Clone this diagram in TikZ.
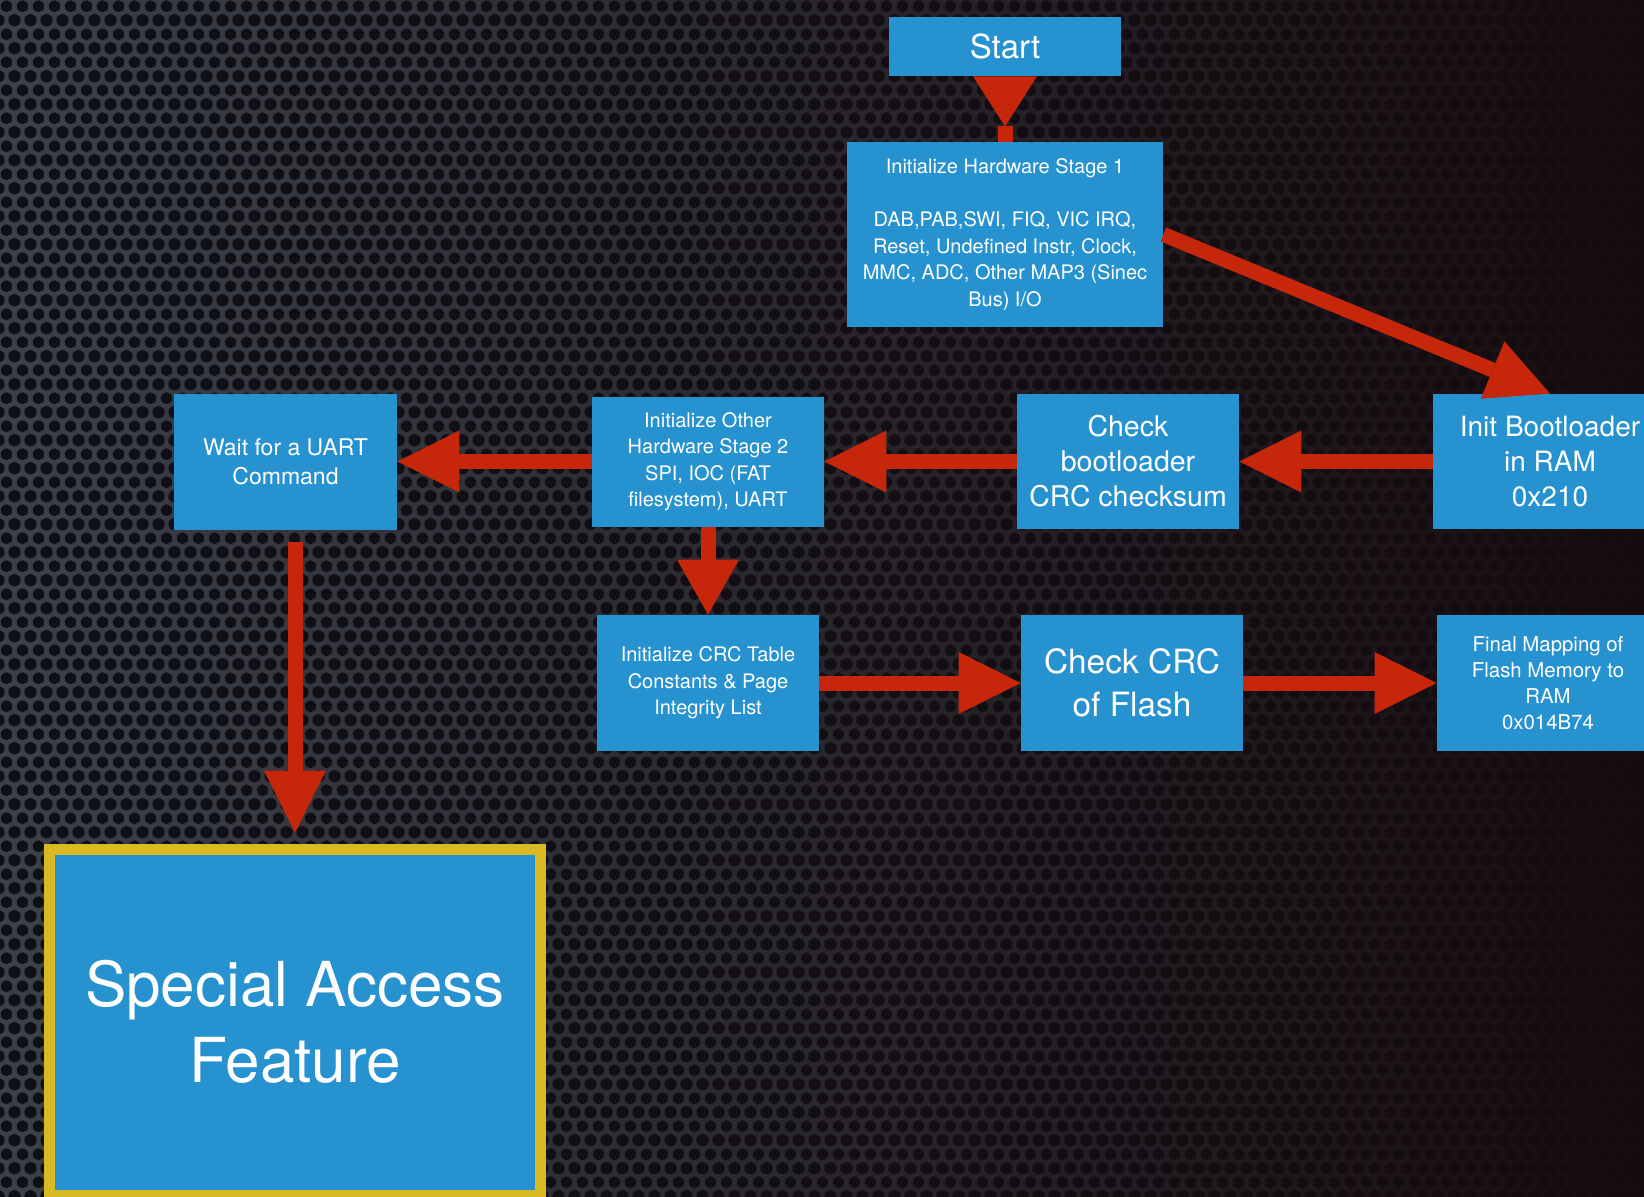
\documentclass[tikz,border=0pt]{standalone}
\usepackage{fontspec}
\setmainfont{TeX Gyre Heros}
\usetikzlibrary{arrows.meta,patterns.meta,fadings}

\definecolor{bloccoblu}{RGB}{38,146,208}
\definecolor{frecciarossa}{RGB}{198,38,10}
\definecolor{bordogiallo}{RGB}{216,186,36}
\definecolor{sfondogrigio}{RGB}{60,65,76}
\definecolor{sfondoforo}{RGB}{15,17,22}
\definecolor{sfondoscuro}{RGB}{22,12,15}

% Lamiera forata dello sfondo
\tikzdeclarepattern{
  name=fori,
  type=uncolored,
  bounding box={(0pt,0pt) and (8pt,13.86pt)},
  tile size={(8pt,13.86pt)},
  code={
    \fill (0pt,0pt) circle (3pt) (8pt,0pt) circle (3pt)
          (0pt,13.86pt) circle (3pt) (8pt,13.86pt) circle (3pt)
          (4pt,6.93pt) circle (3pt);
  }
}
\tikzfading[name=scurodestra, left color=transparent!100, middle color=transparent!50, right color=transparent!0]

\begin{document}
\begin{tikzpicture}[x=0.5pt, y=-0.5pt]

    % Stili globali per blocchi e frecce
    \tikzset{
        blocco/.style={fill=bloccoblu, text=white, align=center, inner sep=0pt},
        freccia/.style={draw=frecciarossa, line width=7.5pt,
            -{Triangle[width=31pt, length=31pt, line width=0pt]}}
    }

    % Sfondo (1644 x 1196)
    \useasboundingbox (0,0) rectangle (1644,1196);
    \clip (0,0) rectangle (1644,1196);
    \fill[sfondogrigio] (-20,-20) rectangle (1664,1216);
    \fill[pattern=fori, pattern color=sfondoforo] (-20,-20) rectangle (1664,1216);
    \fill[sfondoscuro, path fading=scurodestra] (-20,-20) rectangle (1664,1216);

    % Blocchi in alto
    \node[blocco, minimum width=116pt, minimum height=29.5pt, font=\fontsize{16.5}{19}\selectfont] (start) at (1005,46.5) {Start};
    \node[blocco, minimum width=158pt, minimum height=92.5pt, font=\fontsize{10}{13.25}\selectfont] (hw1) at (1005,234.5)
        {Initialize Hardware Stage 1\\[13.25pt]DAB,PAB,SWI, FIQ, VIC IRQ,\\Reset, Undefined Instr, Clock,\\MMC, ADC, Other MAP3 (Sinec\\Bus) I/O};

    % Riga centrale
    \node[blocco, minimum width=117pt, minimum height=67.5pt, font=\fontsize{14}{17.5}\selectfont] (boot) at (1550,461.5) {Init Bootloader\\in RAM\\0x210};
    \node[blocco, minimum width=111pt, minimum height=67.5pt, font=\fontsize{14.25}{17.5}\selectfont] (crcboot) at (1128,461.5) {Check\\bootloader\\CRC checksum};
    \node[blocco, minimum width=116pt, minimum height=65pt, font=\fontsize{10}{13.25}\selectfont] (hw2) at (708,461.5) {Initialize Other\\Hardware Stage 2\\SPI, IOC (FAT\\filesystem), UART};
    \node[blocco, minimum width=111.5pt, minimum height=68pt, font=\fontsize{11.5}{14.5}\selectfont] (wait) at (285.5,461.5) {Wait for a UART\\Command};

    % Riga inferiore
    \node[blocco, minimum width=111pt, minimum height=68pt, font=\fontsize{10}{13.25}\selectfont] (crctab) at (708,683) {Initialize CRC Table\\Constants \& Page\\Integrity List};
    \node[blocco, minimum width=111pt, minimum height=68pt, font=\fontsize{16.7}{21.5}\selectfont] (crcflash) at (1132,683) {Check CRC\\of Flash};
    \node[blocco, minimum width=111pt, minimum height=68pt, font=\fontsize{10.2}{13.1}\selectfont] (final) at (1548,683) {Final Mapping of\\Flash Memory to\\RAM\\0x014B74};

    % Blocco finale evidenziato
    \node[blocco, draw=bordogiallo, line width=5.5pt, minimum width=245.5pt, minimum height=173pt, font=\fontsize{31}{37.75}\selectfont] (speciale) at (295,1022) {Special Access\\Feature};

    % Frecce
    \draw[freccia, {Triangle[reversed, width=32pt, length=25pt, line width=0pt]}-] (start) -- (hw1);
    \draw[freccia] (hw1.east) -- (boot.north);
    \draw[freccia] (boot) -- (crcboot);
    \draw[freccia] (crcboot) -- (hw2);
    \draw[freccia] (hw2) -- (wait);
    \draw[freccia, -{Triangle[width=31pt, length=27.5pt, line width=0pt]}] (hw2) -- (crctab);
    \draw[freccia] (crctab) -- (crcflash);
    \draw[freccia] (crcflash) -- (final);
    \draw[freccia, shorten <=6pt, shorten >=5.5pt] (wait.south -| speciale.north) -- (speciale.north);

\end{tikzpicture}
\end{document}
